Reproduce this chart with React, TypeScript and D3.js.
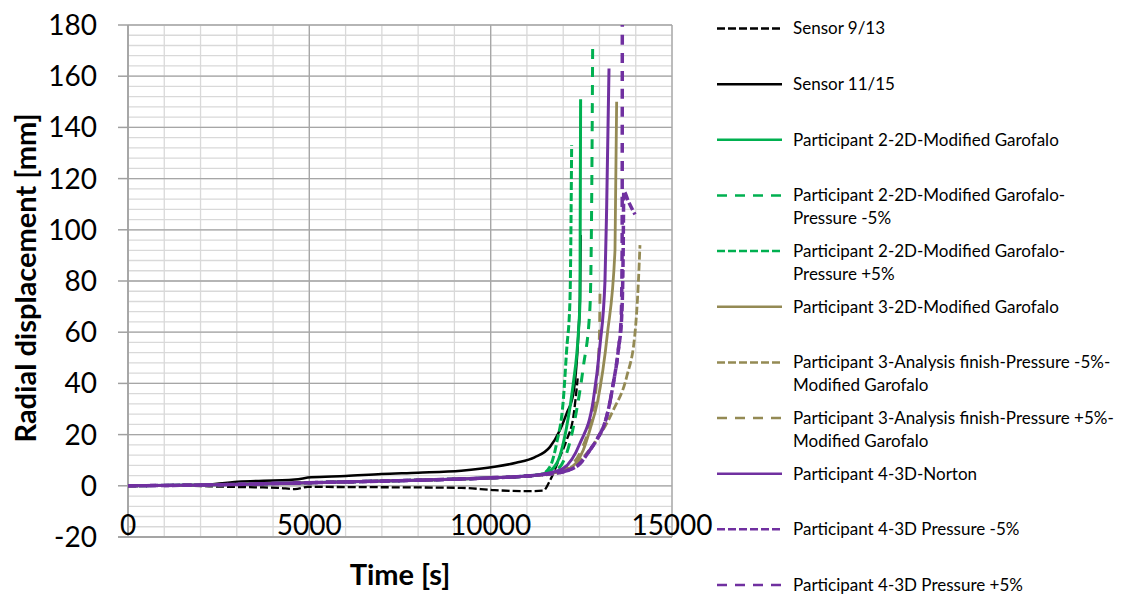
import React from 'react';
import * as d3 from 'd3';

// time [s], radial displacement [mm]
const sensor913 = [[0, 0], [1000, 0], [1750, 0], [2500, -0.3], [3500, -0.6], [4136, -0.8], [4600, -1.3], [4960, -0.4], [6000, -0.5], [7500, -0.6], [9190, -0.8], [10110, -1.7], [11030, -2.1], [11450, -1.9], [11640, 2.2], [11910, 11.3], [12095, 17.9], [12280, 27], [12400, 42]];
const sensor1115 = [[0, 0], [1750, 0.1], [3030, 1.6], [4600, 2.5], [5055, 3.3], [6000, 3.8], [6990, 4.6], [8000, 5.1], [9190, 5.9], [10110, 7.4], [10700, 9], [11210, 11.1], [11636, 15.2], [11911, 21.8], [12095, 28.3], [12279, 36], [12417, 59], [12463, 74], [12482, 98]];
const p2Garofalo = [[0, 0], [2000, 0.3], [5000, 1.2], [8000, 2.2], [10000, 3.1], [11000, 3.8], [11500, 4.8], [11818, 8.7], [12095, 23], [12279, 40], [12417, 59.5], [12463, 72.5], [12480, 151]];
const p2Minus5 = [[0, 0], [2000, 0.3], [5000, 1.2], [8000, 2.2], [10000, 3.1], [11000, 3.8], [11500, 4.6], [11818, 6.1], [12095, 12.7], [12371, 29.6], [12555, 46.5], [12739, 70], [12790, 120], [12812, 171]];
const p2Plus5 = [[0, 0], [2000, 0.3], [5000, 1.2], [8000, 2.2], [10000, 3.1], [11000, 3.8], [11400, 4.5], [11636, 7.4], [11818, 16.6], [12003, 33.5], [12095, 53], [12187, 72.5], [12233, 133]];
const p3Garofalo = [[0, 0], [2000, 0.3], [5000, 1.2], [8000, 2.2], [10000, 3.1], [11000, 3.8], [11500, 4.6], [12095, 6.1], [12555, 14], [12739, 22], [12950, 33], [13220, 59.5], [13428, 92], [13474, 150]];
const p3Minus5 = [[0, 0], [2000, 0.3], [5000, 1.2], [8000, 2.2], [10000, 3.1], [11000, 3.8], [11818, 4.8], [12371, 8.7], [12922, 17.9], [13382, 29.6], [13750, 42.6], [13979, 59.5], [14071, 79], [14117, 94]];
const p3Plus5 = [[0, 0], [2000, 0.3], [5000, 1.2], [8000, 2.2], [10000, 3.1], [11000, 3.8], [11500, 4.6], [12095, 7], [12500, 14], [12750, 25], [12920, 40], [13000, 60], [13015, 76]];
const p4Norton = [[0, 0], [2000, 0.3], [5000, 1.2], [8000, 2.2], [10000, 3.1], [11000, 3.8], [11544, 4.8], [12003, 6.8], [12463, 16.6], [12831, 33.5], [13015, 55], [13152, 80], [13200, 110], [13263, 163]];
const p4Minus5 = [[0, 0], [2000, 0.3], [5000, 1.2], [8000, 2.2], [10000, 3.1], [11000, 3.8], [11500, 4.5], [12003, 5.5], [12463, 8.7], [12739, 14], [12922, 17.9], [13198, 27], [13382, 40], [13520, 53], [13612, 66], [13654, 92], [13670, 115], [13800, 111], [13979, 106]];
const p4Plus5 = [[0, 0], [2000, 0.3], [5000, 1.2], [8000, 2.2], [10000, 3.1], [11000, 3.8], [11500, 4.5], [12003, 5.5], [12463, 8.7], [12739, 14], [12922, 17.9], [13198, 27], [13382, 40], [13520, 53], [13600, 66], [13625, 92], [13630, 190]];

const xTicks = [0, 5000, 10000, 15000];
const yTicks = [-20, 0, 20, 40, 60, 80, 100, 120, 140, 160, 180];

const GREEN = '#00b050';
const OLIVE = '#948a54';
const PURPLE = '#7030a0';
const SHORT = '8,3';
const LONG = '10,8';

const series = [
  { name: ['Sensor 9/13'], data: sensor913, color: '#000', dash: SHORT, width: 2.3 },
  { name: ['Sensor 11/15'], data: sensor1115, color: '#000', dash: null, width: 2.5 },
  { name: ['Participant 2-2D-Modified Garofalo'], data: p2Garofalo, color: GREEN, dash: null, width: 3 },
  { name: ['Participant 2-2D-Modified Garofalo-', 'Pressure -5%'], data: p2Minus5, color: GREEN, dash: LONG, width: 3 },
  { name: ['Participant 2-2D-Modified Garofalo-', 'Pressure +5%'], data: p2Plus5, color: GREEN, dash: SHORT, width: 3 },
  { name: ['Participant 3-2D-Modified Garofalo'], data: p3Garofalo, color: OLIVE, dash: null, width: 2.8 },
  { name: ['Participant 3-Analysis finish-Pressure -5%-', 'Modified Garofalo'], data: p3Minus5, color: OLIVE, dash: SHORT, width: 2.8 },
  { name: ['Participant 3-Analysis finish-Pressure +5%-', 'Modified Garofalo'], data: p3Plus5, color: OLIVE, dash: LONG, width: 2.8 },
  { name: ['Participant 4-3D-Norton'], data: p4Norton, color: PURPLE, dash: null, width: 3 },
  { name: ['Participant 4-3D Pressure -5%'], data: p4Minus5, color: PURPLE, dash: SHORT, width: 3.5 },
  { name: ['Participant 4-3D Pressure +5%'], data: p4Plus5, color: PURPLE, dash: LONG, width: 3.5 },
];

const FONT = 'Lato, "Open Sans", sans-serif';

export default function App() {
  const left = 128, right = 672, top = 25, bottom = 537;
  const x = d3.scaleLinear().domain([0, 15000]).range([left, right]);
  const y = d3.scaleLinear().domain([-20, 180]).range([bottom, top]);
  const line = d3.line<number[]>()
    .x(d => x(d[0]))
    .y(d => y(d[1]))
    .curve(d3.curveMonotoneX);

  const xMinor = d3.range(0, 15001, 1000);
  const yMinor = d3.range(-20, 181, 4);

  return (
    <div style={{ position: 'absolute', left: 0, top: 0 }}>
      <svg width={1123} height={597} style={{ display: 'block', background: '#fff' }} fontFamily={FONT}>
        <defs>
          <clipPath id="plot">
            <rect x={left} y={top} width={right - left} height={bottom - top} />
          </clipPath>
        </defs>
        {/* grid */}
        {yMinor.map(v => (
          <line key={'ym' + v} x1={left} x2={right} y1={y(v)} y2={y(v)} stroke="#d9d9d9" strokeWidth={1.3} />
        ))}
        {xMinor.map(v => (
          <line key={'xm' + v} x1={x(v)} x2={x(v)} y1={top} y2={bottom} stroke="#d9d9d9" strokeWidth={1.3} />
        ))}
        {yTicks.map(v => (
          <line key={'yM' + v} x1={left} x2={right} y1={y(v)} y2={y(v)} stroke="#a6a6a6" strokeWidth={1.3} />
        ))}
        {xTicks.map(v => (
          <line key={'xM' + v} x1={x(v)} x2={x(v)} y1={top} y2={bottom} stroke="#a6a6a6" strokeWidth={1.3} />
        ))}
        {/* axes */}
        <line x1={left} x2={left} y1={top} y2={bottom} stroke="#a0a0a0" strokeWidth={1.5} />
        <line x1={left - 10} x2={right} y1={bottom} y2={bottom} stroke="#a0a0a0" strokeWidth={1.5} />
        {yTicks.map(v => (
          <line key={'yt' + v} x1={left - 10} x2={left} y1={y(v)} y2={y(v)} stroke="#a0a0a0" strokeWidth={1.5} />
        ))}
        {yTicks.map(v => (
          <text key={'yl' + v} x={97} y={y(v)} dy="0.36em" textAnchor="end" fontSize={28} fill="#000">{v}</text>
        ))}
        {xTicks.map(v => (
          <text key={'xl' + v} x={x(v)} y={535} textAnchor="middle" fontSize={28} fill="#000">{v}</text>
        ))}
        <text x={400} y={585} textAnchor="middle" fontSize={29} fontWeight="bold">Time [s]</text>
        <text transform={`translate(36,${(top + bottom) / 2 - 3}) rotate(-90)`} textAnchor="middle" fontSize={29} fontWeight="bold">Radial displacement [mm]</text>

        {/* series */}
        <g clipPath="url(#plot)">
          {series.map((s, i) => (
            <path key={i} d={line(s.data) || ''} fill="none" stroke={s.color} strokeWidth={s.width}
              strokeDasharray={s.dash || undefined} strokeLinejoin="round" />
          ))}
        </g>

        {/* legend */}
        {series.map((s, i) => {
          const ly = 28.5 + i * 55.65;
          return (
            <g key={'lg' + i}>
              <line x1={717} x2={782} y1={ly} y2={ly} stroke={s.color} strokeWidth={2.5}
                strokeDasharray={s.dash || undefined} />
              <text x={793} y={ly} fontSize={17} fill="#000">
                {s.name.map((t, j) => (
                  <tspan key={j} x={793} dy={j === 0 ? '0.35em' : 23}>{t}</tspan>
                ))}
              </text>
            </g>
          );
        })}
      </svg>
    </div>
  );
}
